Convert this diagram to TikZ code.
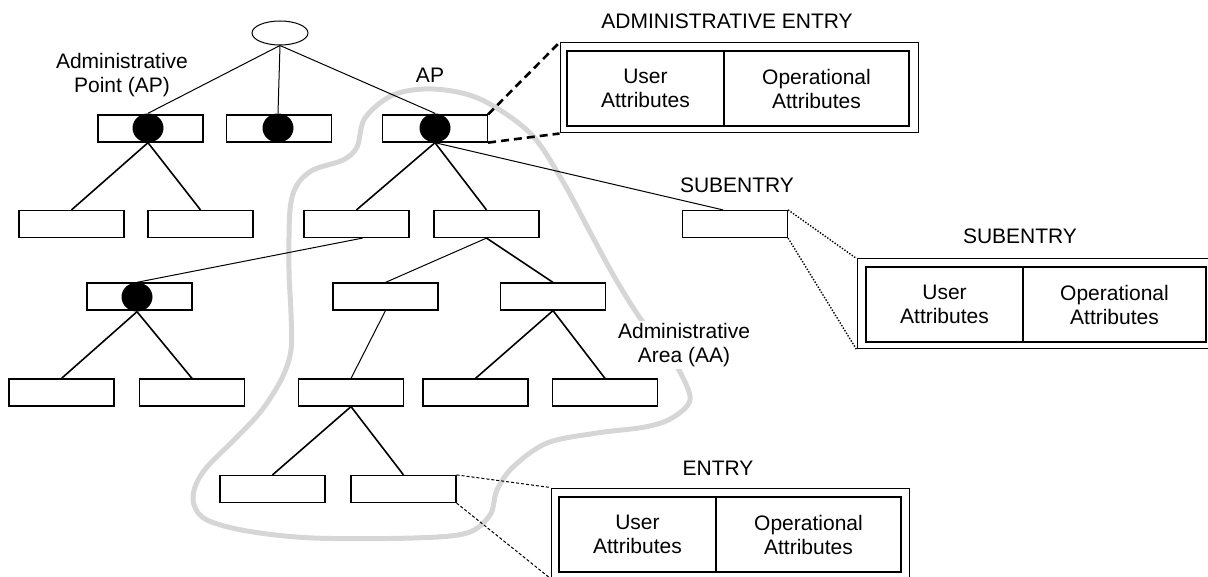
\documentclass[tikz,border=0pt]{standalone}
\usepackage{fontspec}
\setmainfont{Liberation Sans}
\usetikzlibrary{shapes.geometric}
\tikzset{
  lbl/.style={font=\fontsize{21}{24}\selectfont, align=center, inner sep=0pt},
  ebox/.style={draw, line width=1.2pt, fill=white, minimum width=105pt, minimum height=27pt, inner sep=0pt},
  apdot/.style={ellipse, fill=black, minimum width=31pt, minimum height=29pt, inner sep=0pt},
  rootnode/.style={ellipse, draw, line width=1pt, fill=white, minimum width=56pt, minimum height=24pt, inner sep=0pt},
  tline/.style={line width=1pt},
  kline/.style={line width=1.6pt},
  outerbox/.style={draw, line width=1pt, inner sep=0pt},
  cell/.style={lbl, draw, line width=1.2pt, minimum height=75pt},
  admlink/.style={line width=2.6pt, dash pattern=on 8pt off 5pt},
  sublink/.style={line width=1.4pt, dash pattern=on 1.4pt off 1.6pt},
  entlink/.style={line width=1pt, dash pattern=on 3pt off 2pt},
  area/.style={line width=5pt, color=black!16, line join=round},
}
\begin{document}
\begin{tikzpicture}[x=1pt,y=-1pt]
\useasboundingbox (0,0) rectangle (1208,577);
\clip (0,0) rectangle (1208,577);

% administrative area outline
\draw[area] plot[smooth cycle, tension=0.55] coordinates {
 (393,95) (433,89) (480,99) (530,133) (562,180) (590,232) (615,278) (640,318)
 (662,345) (680,372) (690,400) (672,418) (645,427) (597,433) (547,443) (513,467)
 (497,490) (490,515) (467,533) (413,538) (313,538) (247,531) (207,520) (194,505)
 (195,487) (207,467) (237,437) (262,410) (282,378) (291,350) (291,313) (289,270)
 (290,210) (297,185) (313,170) (343,160) (357,147) (365,118)};
\node[lbl, fill=white, inner sep=2pt] (aalbl) at (684,345) {Administrative\\Area (AA)};

% root
\node[rootnode] (root) at (280,33) {};

% row 1
\node[ebox] (r1a) at (150.5,128.5) {};
\node[ebox] (r1b) at (279,128.5) {};
\node[ebox] (r1c) at (435,128.5) {};
\node[apdot] (d1a) at (148,128) {};
\node[apdot] (d1b) at (278,128) {};
\node[apdot] (d1c) at (435,128) {};

% row 2
\node[ebox] (r2a) at (71.5,224) {};
\node[ebox] (r2b) at (200.5,224) {};
\node[ebox] (r2c) at (356.5,224) {};
\node[ebox] (r2d) at (486.5,224) {};
\node[ebox] (sub) at (735,224) {};

% row 3
\node[ebox] (r3a) at (139.5,296.5) {};
\node[apdot] (d3a) at (137,297) {};
\node[ebox] (r3b) at (385.5,296.5) {};
\node[ebox] (r3c) at (553,296.5) {};

% row 4
\node[ebox] (r4a) at (61.5,392.5) {};
\node[ebox] (r4b) at (192,392.5) {};
\node[ebox] (r4c) at (351,392.5) {};
\node[ebox] (r4d) at (475.5,392.5) {};
\node[ebox] (r4e) at (605,392.5) {};

% row 5
\node[ebox] (r5a) at (272.5,489) {};
\node[ebox] (r5b) at (403.5,489) {};

% tree connectors
\draw[tline] (root.south) -- (d1a.north);
\draw[tline] (root.south) -- (d1b.north);
\draw[tline] (root.south) -- (d1c.north);
\draw[kline] (d1a.south) -- (r2a.north);
\draw[kline] (d1a.south) -- (r2b.north);
\draw[kline] (d1c.south) -- (r2c.north);
\draw[kline] (d1c.south) -- (r2d.north);
\draw[tline] (d1c.south) -- ([xshift=-12pt]sub.north);
\draw[tline] ([xshift=6pt]r2c.south) -- (d3a.north);
\draw[tline] (r2d.south) -- (r3b.north);
\draw[kline] (r2d.south) -- (r3c.north);
\draw[kline] (d3a.south) -- (r4a.north);
\draw[kline] (d3a.south) -- (r4b.north);
\draw[tline] (r3b.south) -- (r4c.north);
\draw[kline] (r3c.south) -- (r4d.north);
\draw[kline] (r3c.south) -- (r4e.north);
\draw[kline] (r4c.south) -- (r5a.north);
\draw[kline] (r4c.south) -- (r5b.north);

% labels
\node[lbl] (aplbl) at (122,75) {Administrative\\Point (AP)};
\node[lbl] (aplbl2) at (430,75) {AP};
\node[lbl] (sublbl) at (737,185) {SUBENTRY};

% administrative entry
\node[lbl] (admttl) at (727,21) {ADMINISTRATIVE ENTRY};
\node[outerbox, minimum width=358pt, minimum height=90pt] (admOut) at (739,88) {};
\node[cell, minimum width=157pt] (admU) at (645.5,88.5) {User\\Attributes};
\node[cell, minimum width=185pt] (admO) at (816.5,88.5) {Operational\\Attributes};
\draw[admlink] (r1c.north east) -- (admOut.north west);
\draw[admlink] (r1c.south east) -- (admOut.south west);

% subentry
\node[lbl] (subttl) at (1020,236) {SUBENTRY};
\node[outerbox, minimum width=356pt, minimum height=90pt] (subOut) at (1035,304) {};
\node[cell, minimum width=157pt] (subU) at (944.5,304.5) {User\\Attributes};
\node[cell, minimum width=183pt] (subO) at (1114.5,304.5) {Operational\\Attributes};
\draw[sublink] (sub.north east) -- (subOut.north west);
\draw[sublink] (sub.south east) -- (subOut.south west);

% entry
\node[lbl] (entttl) at (718,468) {ENTRY};
\node[outerbox, minimum width=358pt, minimum height=90pt] (entOut) at (730,533) {};
\node[cell, minimum width=157pt] (entU) at (637.5,534.5) {User\\Attributes};
\node[cell, minimum width=185pt] (entO) at (808.5,534.5) {Operational\\Attributes};
\draw[entlink] (r5b.north east) -- (entOut.north west);
\draw[entlink] (r5b.south east) -- (entOut.south west);
\end{tikzpicture}
\end{document}
